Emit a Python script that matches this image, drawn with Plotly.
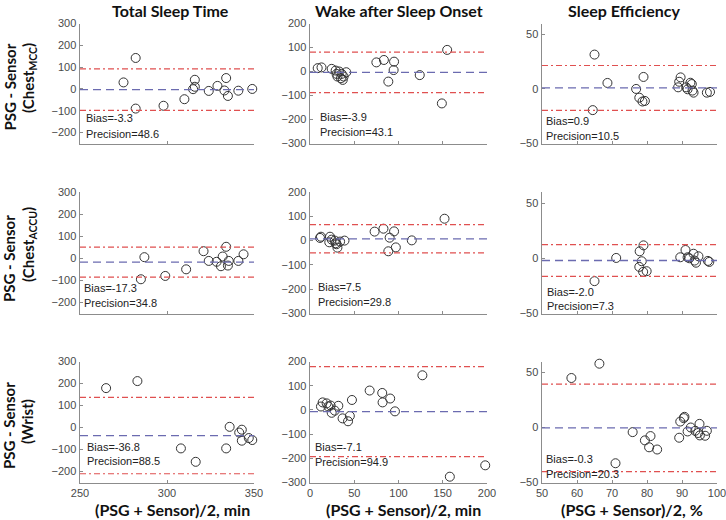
import plotly.graph_objects as go

# ---------------- data ----------------
col_titles = ["Total Sleep Time", "Wake after Sleep Onset", "Sleep Efficiency"]
row_line1 = ["PSG - Sensor", "PSG - Sensor", "PSG - Sensor"]
row_line2 = ["(Chest<sub>MCC</sub>)", "(Chest<sub>ACCU</sub>)", "(Wrist)"]
x_titles = ["(PSG + Sensor)/2, min", "(PSG + Sensor)/2, min", "(PSG + Sensor)/2, %"]

# Total sleep time
tst_mcc_mean = [275, 282, 282, 298, 310, 315, 316, 316, 324, 329, 333, 334, 335, 341, 349]
tst_mcc_diff = [30, 142, -90, -77, -47, -1, 42, 10, -9, 14, -7, 50, -32, -8, 0]
tst_accu_mean = [287, 285, 299, 311, 321, 324, 328.5, 332, 331, 334, 335.5, 335, 341, 344]
tst_accu_diff = [5, -95, -80, -50, 32, -12, -16, 8, -36, 52, -12, -33, -12, 18]
tst_wrist_mean = [265, 283, 308, 316.5, 334, 336, 341.5, 343, 343, 347, 349]
tst_wrist_diff = [179, 211, -95, -156, -95, 3, -23, -10, -60, -48, -57]

# Wake after sleep onset
waso_mcc_mean = [8.7, 13, 24.5, 29, 30, 31, 33, 35, 37, 35.8, 38, 41, 75, 83.5, 88.5, 94.5, 95, 124, 149, 155]
waso_mcc_diff = [14, 17, 11, 4, -10, -21, 0, -28, -35, -10, -21, -3, 38, 48, -42, 6, 41, -15, -133, 90]
waso_accu_mean = [11.3, 12.4, 22.6, 21.8, 24.5, 28, 30, 31, 34, 39, 73, 83, 88.5, 90, 95, 97, 115, 152, 29]
waso_accu_diff = [11, 16, 16, -7, 4, 0, -15, -29, -4, 0, 37, 49, -44, 12, 38, -28, 1, 90, -11]
waso_wrist_mean = [12.4, 14.3, 18.8, 20.7, 23.3, 24.5, 28, 32, 36.8, 43, 45, 47.4, 67.4, 81.6, 82, 90.6, 96, 127, 158, 198]
waso_wrist_diff = [14, 31, 27, 14, 18, -12, -3, 17, -35, -47, -25, 41, 80, 70, 31, 47, -6, 143, -276, -229]

# Sleep efficiency
se_mcc_mean = [65, 64.5, 68.7, 76.9, 77.8, 78.7, 79.4, 79, 88.9, 89.2, 89.6, 91.2, 91.6, 92.4, 92.8, 93, 93.3, 97.1, 98]
se_mcc_diff = [31.5, -19.4, 5.5, 0, -8, -11.5, -11, 11, 1.5, 6.6, 10.6, 1.5, -0.3, 5.7, 4.5, -1.5, -3.4, -3.4, -2.7]
se_accu_mean = [65, 71.2, 77.9, 79, 78.5, 77.8, 78.9, 79.9, 89.5, 91, 91.6, 92.1, 93.3, 93.6, 94, 94.7, 97.4, 97.8]
se_accu_diff = [-20.7, 0.3, 6.3, 11.7, -2.7, -7.8, -12.3, -11.7, 0.9, 7.5, 0.9, 0, 4.1, -2.1, -4, 1.8, -2.4, -3.3]
se_wrist_mean = [58.4, 66.4, 71, 75.9, 79.4, 81, 80.6, 82.9, 89.2, 89.5, 90.7, 90.5, 91.6, 92.5, 93.8, 94.6, 95, 95.1, 96.6, 97.1]
se_wrist_diff = [45, 58, -32.5, -4.2, -11.7, -7.8, -18, -20, -9.3, 5.4, 9.7, 8.5, -3.6, 0, -3, -5, 3.3, -7.2, -7.5, -3]

# Bias and precision (rows: MCC, ACCU, Wrist; cols: TST, WASO, SE)
bias = [[-3.3, -3.9, 0.9], [-17.3, 7.5, -2.0], [-36.8, -7.1, -0.3]]
precision = [[48.6, 43.1, 10.5], [34.8, 29.8, 7.3], [88.5, 94.9, 20.3]]

means = [[tst_mcc_mean, waso_mcc_mean, se_mcc_mean],
         [tst_accu_mean, waso_accu_mean, se_accu_mean],
         [tst_wrist_mean, waso_wrist_mean, se_wrist_mean]]
diffs = [[tst_mcc_diff, waso_mcc_diff, se_mcc_diff],
         [tst_accu_diff, waso_accu_diff, se_accu_diff],
         [tst_wrist_diff, waso_wrist_diff, se_wrist_diff]]

x_ranges = [[250, 350], [0, 200], [50, 100]]
x_ticks = [[250, 300, 350], [0, 50, 100, 150, 200], [50, 60, 70, 80, 90, 100]]
y_ranges = [[-250, 300], [-300, 200], [-50, 60]]
y_ticks = [[-200, -100, 0, 100, 200, 300], [-300, -200, -100, 0, 100, 200], [-50, 0, 50]]

# ---------------- layout geometry (pixels) ----------------
W, H = 726, 520
col_px = [(80, 254), (310, 487), (542, 717)]
row_px = [(23.5, 143.5), (192, 313.5), (361.5, 482.5)]
# stats text positions: (left x, bias y, precision y)
txt_px = [[(84, 118, 134), (318, 117, 132), (544, 121, 136)],
          [(82, 288, 302.5), (316, 287, 302), (545, 291.5, 305.5)],
          [(85, 447, 461), (313, 447, 462), (544, 459, 474)]]
col_title_px = [(170, 10), (399, 10), (624, 10)]
row_lab_px = [((9, 87.5), (29, 78)), ((9, 259), (29, 245)), ((9, 426), (27, 422))]
xt_px = [(172, 509), (403, 509), (632, 509)]

def px(x):
    return x / W

def py(y):
    return 1 - y / H

fig = go.Figure()
layout = {}
shapes = []
annotations = []

tick_font = dict(family="Liberation Sans, Arial, sans-serif", size=11, color="#4a4a4a")
axis_col = "#8c8c8c"
bold_font = dict(family="Lato, Open Sans, sans-serif", size=15, color="#111111")
title_font = dict(family="Lato, Open Sans, sans-serif", size=16, color="#111111")

for r in range(3):
    for c in range(3):
        k = r * 3 + c + 1
        xa = "x" if k == 1 else f"x{k}"
        ya = "y" if k == 1 else f"y{k}"
        xkey = "xaxis" if k == 1 else f"xaxis{k}"
        ykey = "yaxis" if k == 1 else f"yaxis{k}"
        layout[xkey] = dict(
            domain=[px(col_px[c][0]), px(col_px[c][1])],
            range=x_ranges[c], anchor=ya, showgrid=False, zeroline=False,
            showline=True, linecolor=axis_col, linewidth=1.5,
            ticks="inside", ticklen=3, tickcolor=axis_col, tickwidth=1,
            tickvals=x_ticks[c], showticklabels=(r == 2), tickfont=tick_font,
            ticklabeloverflow="allow", automargin=False,
        )
        layout[ykey] = dict(
            domain=[py(row_px[r][1]), py(row_px[r][0])],
            range=y_ranges[c], anchor=xa, showgrid=False, zeroline=False,
            showline=True, linecolor=axis_col, linewidth=1.5,
            ticks="inside", ticklen=3, tickcolor=axis_col, tickwidth=1,
            tickvals=y_ticks[c], tickfont=tick_font, ticklabeloverflow="allow",
            automargin=False,
        )
        fig.add_trace(go.Scatter(
            x=means[r][c], y=diffs[r][c], mode="markers", xaxis=xa, yaxis=ya,
            marker=dict(symbol="circle-open", size=9, color="#333333", line=dict(width=1)),
            cliponaxis=False, showlegend=False, hoverinfo="skip",
        ))
        b = bias[r][c]
        lim = 1.96 * precision[r][c]
        shapes.append(dict(type="line", xref=f"{xa} domain", yref=ya, x0=0, x1=1,
                           y0=b, y1=b, line=dict(color="#6b6bb0", width=1.3, dash="8px,5px")))
        for yv in (b + lim, b - lim):
            shapes.append(dict(type="line", xref=f"{xa} domain", yref=ya, x0=0, x1=1,
                               y0=yv, y1=yv,
                               line=dict(color="#e05050", width=1.2, dash="6px,3px,2px,3px")))
        tx, tb, tp = txt_px[r][c]
        annotations.append(dict(text=f"Bias={b:.1f}", xref="paper", yref="paper",
                                x=px(tx), y=py(tb), xanchor="left", yanchor="middle",
                                showarrow=False, font=dict(family="Liberation Sans, Arial", size=11, color="#222")))
        annotations.append(dict(text=f"Precision={precision[r][c]:.1f}", xref="paper", yref="paper",
                                x=px(tx), y=py(tp), xanchor="left", yanchor="middle",
                                showarrow=False, font=dict(family="Liberation Sans, Arial", size=11, color="#222")))

for c in range(3):
    annotations.append(dict(text=f"<b>{col_titles[c]}</b>", xref="paper", yref="paper",
                            x=px(col_title_px[c][0]), y=py(col_title_px[c][1]),
                            xanchor="center", yanchor="middle", showarrow=False, font=title_font))
    annotations.append(dict(text=f"<b>{x_titles[c]}</b>", xref="paper", yref="paper",
                            x=px(xt_px[c][0]), y=py(xt_px[c][1]),
                            xanchor="center", yanchor="middle", showarrow=False, font=title_font))
for r in range(3):
    (l1x, l1y), (l2x, l2y) = row_lab_px[r]
    annotations.append(dict(text=f"<b>{row_line1[r]}</b>", xref="paper", yref="paper",
                            x=px(l1x), y=py(l1y), xanchor="center", yanchor="middle",
                            textangle=-90, showarrow=False, font=bold_font))
    annotations.append(dict(text=f"<b>{row_line2[r]}</b>", xref="paper", yref="paper",
                            x=px(l2x), y=py(l2y), xanchor="center", yanchor="middle",
                            textangle=-90, showarrow=False, font=bold_font))

fig.update_layout(
    width=W, height=H, margin=dict(l=0, r=0, t=0, b=0, autoexpand=False),
    paper_bgcolor="white", plot_bgcolor="white", hovermode=False,
    shapes=shapes, annotations=annotations, **layout,
)

fig.write_html(
    "out.html",
    config={"displayModeBar": False, "staticPlot": True},
    post_script="document.body.style.margin='0';document.body.style.overflow='hidden';",
)
